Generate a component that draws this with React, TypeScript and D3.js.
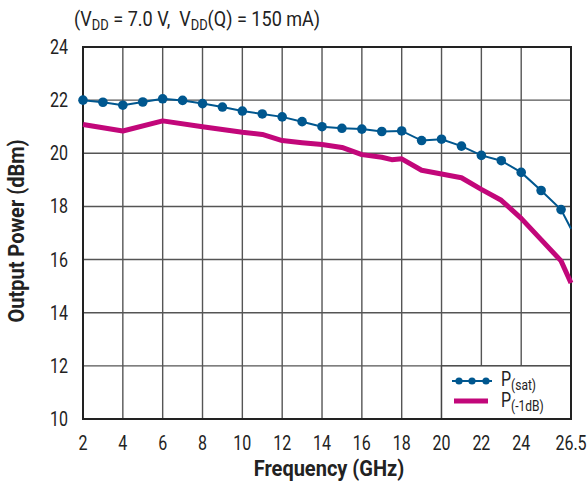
import React from "react";
import * as d3 from "d3";

const satFreq = [2, 3, 4, 5, 6, 7, 8, 9, 10, 11, 12, 13, 14, 15, 16, 17, 18, 19, 20, 21, 22, 23, 24, 25, 26, 26.5];
const satPower = [22.0, 21.92, 21.81, 21.93, 22.05, 21.99, 21.87, 21.74, 21.59, 21.48, 21.37, 21.19, 21.0, 20.94, 20.91, 20.82, 20.84, 20.48, 20.53, 20.27, 19.92, 19.72, 19.28, 18.6, 17.88, 17.16];

const p1Freq = [2, 4, 6, 8, 10, 11, 12, 13, 14, 15, 16, 17, 17.5, 18, 19, 20, 21, 22, 23, 24, 25, 26, 26.5];
const p1Power = [21.08, 20.84, 21.22, 21.0, 20.79, 20.71, 20.48, 20.4, 20.33, 20.22, 19.95, 19.85, 19.76, 19.79, 19.36, 19.22, 19.08, 18.64, 18.23, 17.55, 16.75, 15.95, 15.12];

const xTicks = [2, 4, 6, 8, 10, 12, 14, 16, 18, 20, 22, 24, 26.5];
const yTicks = [10, 12, 14, 16, 18, 20, 22, 24];

const BLUE = "#00578f";
const MAGENTA = "#c2077a";
const FONT = "Roboto, 'Liberation Sans', sans-serif";
const SX = 0.8;

function CText({ x, y, rotate = 0, sx = SX, children, ...rest }: any) {
  return (
    <g transform={`translate(${x},${y}) rotate(${rotate}) scale(${sx},1)`}>
      <text x={0} y={0} {...rest}>{children}</text>
    </g>
  );
}

export default function App() {
  const W = 588, H = 485;
  const L = 83, R = 571, T = 47, B = 419;
  const x = d3.scaleLinear().domain([2, 26.5]).range([L, R]);
  const y = d3.scaleLinear().domain([10, 24]).range([B, T]);

  const sat = satFreq.map((f, i) => [f, satPower[i]] as [number, number]);
  const p1 = p1Freq.map((f, i) => [f, p1Power[i]] as [number, number]);
  const line = d3.line<[number, number]>().x(d => x(d[0])).y(d => y(d[1]));

  const legX = x(20), legY = y(12);

  return (
    <svg width={W} height={H} style={{ position: "absolute", left: 0, top: 0, background: "#fff" }} fontFamily={FONT}>
      <rect x={0} y={0} width={W} height={H} fill="#fff" />
      {/* title */}
      <CText x={74} y={26} fontSize={21} fill="#222" sx={0.86}>
        (V<tspan fontSize={15} dy={4}>DD</tspan><tspan dy={-4}>{" = 7.0 V,\u00A0 V"}</tspan><tspan fontSize={15} dy={4}>DD</tspan><tspan dy={-4}>(Q) = 150 mA)</tspan>
      </CText>
      {/* grid */}
      {xTicks.slice(1, -1).map(t => (
        <line key={"gx" + t} x1={x(t)} x2={x(t)} y1={T} y2={B} stroke="#555" strokeWidth={1.4} />
      ))}
      {yTicks.slice(1, -1).map(t => (
        <line key={"gy" + t} x1={L} x2={R} y1={y(t)} y2={y(t)} stroke="#555" strokeWidth={1.4} />
      ))}
      {/* legend box */}
      <rect x={legX} y={legY} width={R - legX} height={B - legY} fill="#fff" stroke="#444" strokeWidth={1.4} />
      {/* frame */}
      <rect x={L} y={T} width={R - L} height={B - T} fill="none" stroke="#222" strokeWidth={2} />
      {/* series */}
      <path d={line(p1) || ""} fill="none" stroke={MAGENTA} strokeWidth={5} strokeLinejoin="round" />
      <path d={line(sat) || ""} fill="none" stroke={BLUE} strokeWidth={2} />
      {sat.filter(d => Number.isInteger(d[0])).map(d => (
        <circle key={"c" + d[0]} cx={x(d[0])} cy={y(d[1])} r={4.8} fill={BLUE} />
      ))}
      {/* tick labels */}
      {yTicks.map(t => (
        <CText key={"yl" + t} x={68} y={y(t) + 7} textAnchor="end" fontSize={20} fill="#222">{t}</CText>
      ))}
      {xTicks.map(t => (
        <CText key={"xl" + t} x={x(t)} y={450} textAnchor="middle" fontSize={20} fill="#222">{t}</CText>
      ))}
      {/* axis titles */}
      <CText x={329} y={476} textAnchor="middle" fontSize={22} fontWeight="bold" fill="#222" sx={0.91}>Frequency (GHz)</CText>
      <CText x={24} y={231} rotate={-90} textAnchor="middle" fontSize={22} fontWeight="bold" fill="#222" sx={0.91}>Output Power (dBm)</CText>
      {/* legend */}
      <line x1={452} x2={492} y1={381} y2={381} stroke={BLUE} strokeWidth={2} />
      {[459, 472, 486].map(cx => <circle key={"lc" + cx} cx={cx} cy={381} r={3.6} fill={BLUE} />)}
      <CText x={501} y={386} fontSize={20} fill="#222">P<tspan fontSize={15} dy={4}>(sat)</tspan></CText>
      <line x1={454} x2={488} y1={401} y2={401} stroke={MAGENTA} strokeWidth={5} />
      <CText x={501} y={407} fontSize={20} fill="#222">P<tspan fontSize={15} dy={4}>(-1dB)</tspan></CText>
    </svg>
  );
}
